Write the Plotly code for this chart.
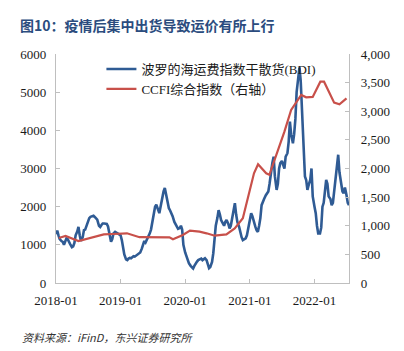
import pandas as pd
import plotly.graph_objects as go

# BDI: four readings per month (days 1, 8, 15, 22), 2018-01 .. 2022-07
bdi_months = pd.period_range("2018-01", "2022-07", freq="M")
bdi_days = [1, 8, 15, 22]
bdi = [
    # 2018
    1280, 1370, 1250, 1150,
    1100, 1080, 1000, 1100,
    1170, 1150, 1100, 1020,
    940, 960, 1050, 1250,
    1350, 1470, 1250, 1100,
    1200, 1385, 1400, 1500,
    1600, 1700, 1735, 1740,
    1760, 1730, 1700, 1660,
    1500, 1470, 1520, 1560,
    1560, 1545, 1550, 1480,
    1250, 1083, 1150, 1300,
    1340, 1330, 1300, 1280,
    # 2019
    1250, 1125, 900, 750,
    620, 600, 640, 660,
    650, 680, 700, 690,
    720, 760, 780, 800,
    900, 1040, 1100, 1060,
    1150, 1210, 1300, 1400,
    1600, 1800, 2000, 2050,
    1900, 1830, 2000, 2200,
    2400, 2490, 2300, 2100,
    1960, 1900, 1830, 1750,
    1600, 1525, 1450, 1420,
    1440, 1500, 1400, 1000,
    # 2020
    800, 700, 600, 520,
    450, 410, 380, 450,
    520, 560, 600, 620,
    640, 600, 630, 650,
    600, 450, 390, 420,
    550, 780, 1100, 1500,
    1700, 1910, 1800, 1650,
    1560, 1500, 1600, 1650,
    1550, 1430, 1500, 1700,
    1900, 2090, 1800, 1600,
    1470, 1300, 1200, 1125,
    1150, 1170, 1250, 1400,
    # 2021
    1600, 1830, 1750, 1600,
    1470, 1380, 1340, 1500,
    1700, 2040, 2100, 2200,
    2300, 2350, 2400, 2600,
    2960, 3150, 3310, 2800,
    2440, 2600, 3000, 3140,
    3200, 3100, 3000, 3310,
    3400, 3700, 4230, 3900,
    3660, 3900, 4300, 5000,
    5400, 5650, 5300, 4600,
    3660, 2790, 2700, 2440,
    2600, 2700, 3000, 2270,
    # 2022
    2000, 1830, 1500, 1300,
    1300, 1450, 2000, 2100,
    2400, 2700, 2600, 2270,
    2200, 2040, 2100, 2400,
    2700, 3100, 3360, 2900,
    2530, 2400, 2350, 2500,
    2300, 2100, 2040,
]
bdi_dates = [p.to_timestamp() + pd.Timedelta(days=d - 1) for p in bdi_months for d in bdi_days][:len(bdi)]

# CCFI composite index (right axis)
ccfi_dates = [
    "2018-01-17", "2018-02-24", "2018-05-08", "2018-09-28", "2018-11-18",
    "2019-02-06", "2019-04-18", "2019-06-13", "2019-10-04", "2019-10-24",
    "2019-12-19", "2020-01-28", "2020-03-22", "2020-05-01", "2020-06-16",
    "2020-08-21", "2020-10-07", "2020-11-22", "2021-01-24", "2021-02-16",
    "2021-04-03", "2021-04-21", "2021-07-15", "2021-08-22", "2021-10-18",
    "2021-11-15", "2021-12-22", "2022-02-03", "2022-02-24", "2022-04-22",
    "2022-05-22", "2022-07-01",
]
ccfi = [
    786, 821, 733, 850, 856,
    868, 800, 800, 798, 763,
    838, 914, 896, 868, 826,
    850, 955, 1130, 1916, 2073,
    1916, 1890, 2643, 3022, 3284,
    3243, 3250, 3517, 3517, 3150,
    3121, 3226,
]

left_ticks = [0, 1000, 2000, 3000, 4000, 5000, 6000]
right_ticks = [0, 500, 1000, 1500, 2000, 2500, 3000, 3500, 4000]
x_ticks = ["2018-01-01", "2019-01-01", "2020-01-01", "2021-01-01", "2022-01-01"]
x_labels = ["2018-01", "2019-01", "2020-01", "2021-01", "2022-01"]

title = "图10：疫情后集中出货导致运价有所上行"
source = "资料来源：iFinD，东兴证券研究所"
bdi_name = "波罗的海运费指数干散货(BDI)"
ccfi_name = "CCFI综合指数（右轴）"

serif = "Liberation Serif, DejaVu Serif, serif"
cjk = "Noto Sans CJK SC"
axis_grey = "#bfbfbf"
tick_col = "#1a1a1a"

fig = go.Figure()
fig.add_trace(go.Scatter(
    x=bdi_dates, y=bdi, name=bdi_name, mode="lines",
    line=dict(color="#2f5b94", width=2.6), yaxis="y",
))
fig.add_trace(go.Scatter(
    x=ccfi_dates, y=ccfi, name=ccfi_name, mode="lines",
    line=dict(color="#c8504a", width=2.2), yaxis="y2",
))

fig.update_layout(
    width=404, height=351,
    margin=dict(l=56, r=55, t=54, b=68),
    paper_bgcolor="white", plot_bgcolor="white",
    font=dict(family=serif),
    showlegend=True,
    legend=dict(
        x=0.155, y=1.0, xanchor="left", yanchor="top",
        bgcolor="rgba(0,0,0,0)", itemwidth=30, tracegroupgap=0,
        font=dict(family=serif + ", " + cjk, size=13, color=tick_col),
    ),
    xaxis=dict(
        type="date", range=["2018-01-01", "2022-07-15"],
        tickvals=x_ticks, ticktext=x_labels,
        ticks="inside", ticklen=4, tickcolor=axis_grey, tickwidth=1,
        showline=True, linecolor=axis_grey, linewidth=1.3,
        showgrid=False, zeroline=False,
        tickfont=dict(family=serif, size=13, color=tick_col),
        ticklabelstandoff=5,
    ),
    yaxis=dict(
        range=[0, 6000], tickvals=left_ticks,
        ticks="inside", ticklen=4, tickcolor=axis_grey,
        showline=True, linecolor=axis_grey, linewidth=1.3,
        showgrid=False, zeroline=False,
        tickfont=dict(family=serif, size=13, color=tick_col),
        ticklabelstandoff=6,
    ),
    yaxis2=dict(
        range=[0, 4000], tickvals=right_ticks, tickformat=",d",
        overlaying="y", side="right",
        ticks="inside", ticklen=4, tickcolor=axis_grey,
        showline=True, linecolor=axis_grey, linewidth=1.3,
        showgrid=False, zeroline=False,
        tickfont=dict(family=serif, size=13, color=tick_col),
        ticklabelstandoff=8,
    ),
    annotations=[
        dict(text=f"<b>{title}</b>", xref="paper", yref="paper",
             x=-38 / 293, y=1 + 29 / 229, xanchor="left", yanchor="middle",
             showarrow=False, font=dict(family=cjk, size=14, color="#2b4c7e")),
        dict(text=f"<i>{source}</i>", xref="paper", yref="paper",
             x=-36 / 293, y=-54 / 229, xanchor="left", yanchor="middle",
             showarrow=False, font=dict(family=cjk, size=11, color="#333333")),
    ],
)

fig.write_html("out.html")
